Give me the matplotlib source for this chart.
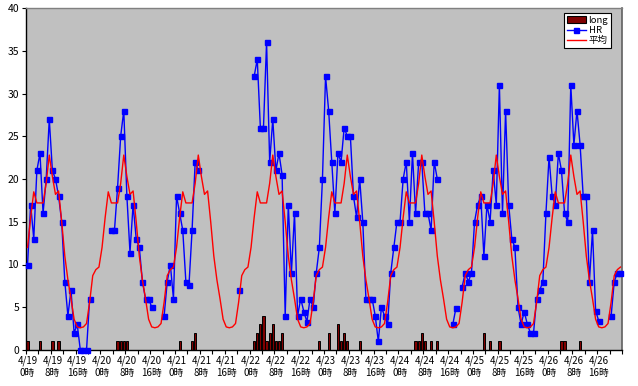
import numpy as np
import matplotlib
matplotlib.use('Agg')
import matplotlib.pyplot as plt
from matplotlib.lines import Line2D
from matplotlib.patches import Patch

plt.rcParams['font.family'] = ['Noto Sans CJK JP', 'DejaVu Sans']

nan = np.nan

# ---- data ----
days = ['4/19', '4/20', '4/21', '4/22', '4/23', '4/24', '4/25', '4/26']
label_hours = [0, 8, 16]
tick_labels = [f"{d}\n{h}時" for d in days for h in label_hours]

# HR, hourly from 4/19 0時 to 4/26 23時 (nan = no data)
hr = [
    10, 17, 13, 21, 23, 16, 20, 27, 21, 20, 18, 15, 8, 4, 7, 2, 3, 0, 0, 0, 6, nan, nan, nan,
    nan, nan, nan, 14, 14, 19, 25, 28, 18, 11.4, 17, 13, 12, 8, 6, 6, 5, nan, nan, nan, 4, 8, 10, 6,
    18, 16, 14, 8, 7.6, 14, 22, 21, nan, nan, nan, nan, nan, nan, nan, nan, nan, nan, nan, nan, 7, nan, nan, nan,
    nan, 32, 34, 26, 26, 36, 22, 27, 21, 23, 20.5, 4, 17, 9, 16, 4, 6, 4.5, 3.3, 6, 5, 9, 12, 20,
    32, 28, 22, 16, 23, 22, 26, 25, 25, 18, 15.5, 20, 15, 6, 6, 6, 4, 1, 5, 4, 3, 9, 12, 15,
    15, 20, 22, 15, 23, 16, 22, 22, 16, 16, 14, 22, 20, nan, nan, nan, nan, 3, 4.9, nan, 7.4, 9, 8, 9,
    15, 17, 18, 11, 17, 15, 21, 17, 31, 16, 28, 17, 13, 12, 5, 3, 4.5, 3, 2, 2, 6, 7, 8, 16,
    22.6, 18, 17, 23, 21, 16, 15, 31, 24, 28, 24, 18, 18, 8, 14, 4.6, 3.4, nan, nan, nan, 4, 8, 9, 9,
]

# 平均 (average by hour of day, same curve each day)
avg = [
    12.0, 15.5, 18.5, 17.2, 17.2, 17.2, 19.5, 22.8, 20.3, 18.2, 18.6, 15.0, 11.0, 8.2, 6.0, 3.6, 2.7, 2.6, 2.7, 3.1, 5.6, 8.7, 9.4, 9.7,
    12.0, 15.5, 18.5, 17.2, 17.2, 17.2, 19.5, 22.8, 20.3, 18.2, 18.6, 15.0, 11.0, 8.2, 6.0, 3.6, 2.7, 2.6, 2.7, 3.1, 5.6, 8.7, 9.4, 9.7,
    12.0, 15.5, 18.5, 17.2, 17.2, 17.2, 19.5, 22.8, 20.3, 18.2, 18.6, 15.0, 11.0, 8.2, 6.0, 3.6, 2.7, 2.6, 2.7, 3.1, 5.6, 8.7, 9.4, 9.7,
    12.0, 15.5, 18.5, 17.2, 17.2, 17.2, 19.5, 22.8, 20.3, 18.2, 18.6, 15.0, 11.0, 8.2, 6.0, 3.6, 2.7, 2.6, 2.7, 3.1, 5.6, 8.7, 9.4, 9.7,
    12.0, 15.5, 18.5, 17.2, 17.2, 17.2, 19.5, 22.8, 20.3, 18.2, 18.6, 15.0, 11.0, 8.2, 6.0, 3.6, 2.7, 2.6, 2.7, 3.1, 5.6, 8.7, 9.4, 9.7,
    12.0, 15.5, 18.5, 17.2, 17.2, 17.2, 19.5, 22.8, 20.3, 18.2, 18.6, 15.0, 11.0, 8.2, 6.0, 3.6, 2.7, 2.6, 2.7, 3.1, 5.6, 8.7, 9.4, 9.7,
    12.0, 15.5, 18.5, 17.2, 17.2, 17.2, 19.5, 22.8, 20.3, 18.2, 18.6, 15.0, 11.0, 8.2, 6.0, 3.6, 2.7, 2.6, 2.7, 3.1, 5.6, 8.7, 9.4, 9.7,
    12.0, 15.5, 18.5, 17.2, 17.2, 17.2, 19.5, 22.8, 20.3, 18.2, 18.6, 15.0, 11.0, 8.2, 6.0, 3.6, 2.7, 2.6, 2.7, 3.1, 5.6, 8.7, 9.4, 9.7,
]

# long (bars): hour index and value
long_hours = [0, 4, 8, 10, 29, 30, 31, 32, 49, 53, 54,
              73, 74, 75, 76, 77, 78, 79, 80, 81, 82,
              94, 97, 100, 101, 102, 103, 107,
              125, 126, 127, 128, 130, 132, 147, 149, 152, 172, 173, 178]
long_vals = [1, 1, 1, 1, 1, 1, 1, 1, 1, 1, 2,
             1, 2, 3, 4, 1, 2, 3, 1, 1, 2,
             1, 2, 3, 1, 2, 1, 1,
             1, 1, 2, 1, 1, 1, 2, 1, 1, 1, 1, 1]

# ---- plot ----
W, H = 638, 386
fig = plt.figure(figsize=(W / 100, H / 100), dpi=100)
fig.patch.set_facecolor('white')
ax = fig.add_axes([26 / W, 1 - 350 / H, 596 / W, 342 / H])
ax.set_facecolor('#C0C0C0')

x = np.arange(len(hr))
ax.bar(long_hours, long_vals, width=0.72, color='#800000', edgecolor='black',
       linewidth=0.7, zorder=2)
ax.plot(x, hr, color='#0000FF', lw=1.0, marker='s', ms=3.6, mfc='#0000FF',
        mec='#0000FF', zorder=4, clip_on=False)
ax.plot(x, avg, color='#FF0000', lw=1.0, zorder=5)

ax.set_xlim(-0.5, len(hr) - 0.5)
ax.set_ylim(0, 40)
ax.set_yticks(np.arange(0, 41, 5))
ax.set_xticks(np.arange(0, len(hr), 8))
ax.set_xticklabels(tick_labels, fontsize=7, linespacing=1.2)
ax.set_xticks(np.arange(-0.5, len(hr), 4), minor=True)
ax.tick_params(axis='x', which='major', length=0, pad=4)
ax.tick_params(axis='x', which='minor', length=3, width=0.8, direction='out')
ax.tick_params(axis='y', length=3, width=0.8, direction='out', labelsize=7.5, pad=2)

for s in ['left', 'bottom']:
    ax.spines[s].set_color('black')
    ax.spines[s].set_linewidth(1.0)
ax.spines['top'].set_color('#808080')
ax.spines['top'].set_linewidth(1.0)
ax.spines['right'].set_color('#606060')
ax.spines['right'].set_linewidth(1.2)

handles = [Patch(facecolor='#800000', edgecolor='black', linewidth=0.8),
           Line2D([], [], color='#0000FF', lw=1.0, marker='s', ms=3.6),
           Line2D([], [], color='#FF0000', lw=1.0)]
leg = ax.legend(handles, ['long', 'HR', '平均'], loc='upper right',
                bbox_to_anchor=(611 / W, 1 - 13 / H), bbox_transform=fig.transFigure,
                borderaxespad=0, fontsize=6.8, handlelength=2.0, handletextpad=0.3,
                borderpad=0.3, labelspacing=0.12, fancybox=False, framealpha=1)
leg.get_frame().set_edgecolor('black')
leg.get_frame().set_linewidth(0.8)
leg.set_zorder(10)

fig.savefig('out.png', dpi=100)
